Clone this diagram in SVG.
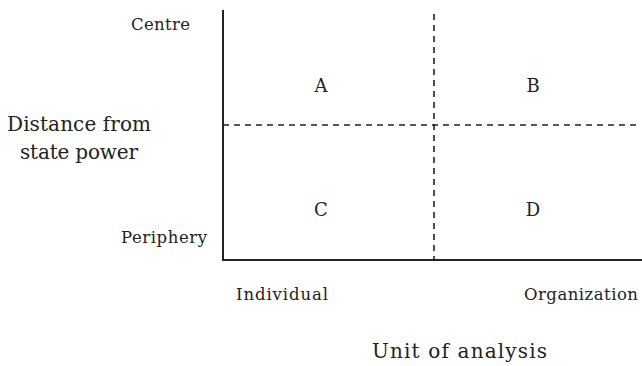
<svg xmlns="http://www.w3.org/2000/svg" width="642" height="366" viewBox="0 0 642 366">
<style>
text{font-family:"DejaVu Serif","Liberation Serif",serif;fill:#222}
.s{font-size:16.5px}
.m{font-size:18px}
.l{font-size:20px}
.axis{stroke:#222;stroke-width:2;fill:none}
.dash{stroke:#222;stroke-width:1.6;stroke-dasharray:6 5;fill:none}
</style>
<rect width="642" height="366" fill="#fff"/>
<g id="connectors">
<path class="axis" d="M223 10 V260 H642"/>
<path class="dash" d="M223 125 H637"/>
<path class="dash" d="M434 14 V260"/>
</g>
<g id="axis-labels">
<text class="s" x="131" y="30" textLength="59">Centre</text>
<text class="l" x="7" y="131" textLength="144">Distance from</text>
<text class="l" x="20" y="159" textLength="118">state power</text>
<text class="s" x="121" y="243" textLength="86">Periphery</text>
<text class="s" x="236" y="300" textLength="92">Individual</text>
<text class="s" x="524" y="300" textLength="114">Organization</text>
<text class="l" x="372" y="358" textLength="175">Unit of analysis</text>
</g>
<g id="A"><text class="m" x="321" y="92" text-anchor="middle">A</text></g>
<g id="B"><text class="m" x="533" y="92" text-anchor="middle">B</text></g>
<g id="C"><text class="m" x="321" y="216" text-anchor="middle">C</text></g>
<g id="D"><text class="m" x="533" y="216" text-anchor="middle">D</text></g>
</svg>
